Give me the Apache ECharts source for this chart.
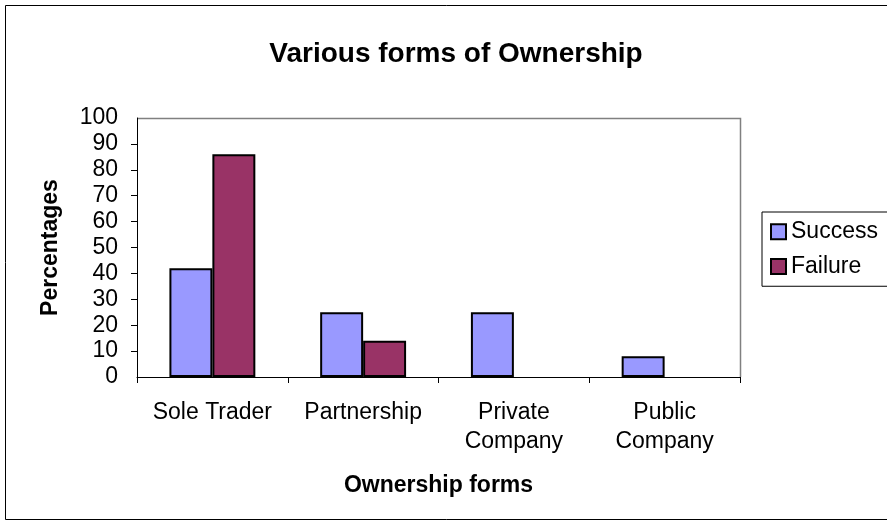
<!DOCTYPE html>
<html>
<head>
  <title>Various forms of Ownership</title>
  <script src="https://cdn.jsdelivr.net/npm/echarts@6/dist/echarts.min.js"></script>
  <style>
    body { margin: 0; background: #fff; }
    #chart { width: 887px; height: 524px; }
  </style>
</head>
<body>
  <div id="chart"></div>
  <script>
    // data
    const categories = ['Sole Trader', 'Partnership', 'Private\nCompany', 'Public\nCompany'];
    const success = [42, 25, 25, 8];
    const failure = [86, 14, 0, 0];
    const yTicks = [0, 10, 20, 30, 40, 50, 60, 70, 80, 90, 100];

    const chart = echarts.init(document.getElementById('chart'));
    const font = 'Liberation Sans, Arial, sans-serif';

    // zero-height bars get no outline, like the original
    const bars = arr => arr.map(v => v === 0 ? { value: v, itemStyle: { borderWidth: 0 } } : v);

    const yLabel = {
      fontSize: 23, color: '#000', margin: 19, fontFamily: font,
      formatter: v => yTicks.includes(v) ? String(v) : ''
    };

    chart.setOption({
      animation: false,
      backgroundColor: '#fff',
      textStyle: { fontFamily: font },
      title: {
        text: 'Various forms of Ownership',
        left: 451, top: 25, textAlign: 'center',
        textStyle: { fontSize: 28, fontWeight: 'bold', color: '#000', fontFamily: font }
      },
      legend: {
        data: ['Success', 'Failure'],
        orient: 'vertical',
        left: 762, top: 212,
        itemWidth: 15, itemHeight: 15, itemGap: -5,
        icon: 'rect',
        textStyle: { fontSize: 23, lineHeight: 24, color: '#000', fontFamily: font },
        borderColor: '#000', borderWidth: 1,
        padding: [0, 12, 0, 8]
      },
      grid: { left: 137, right: 147, top: 118, bottom: 147 },
      xAxis: {
        type: 'category',
        data: categories,
        name: 'Ownership forms',
        nameLocation: 'middle',
        nameGap: 89,
        nameTextStyle: { fontSize: 23, fontWeight: 'bold', color: '#000', fontFamily: font },
        axisLine: { lineStyle: { color: '#000', width: 1 } },
        axisTick: { show: true, length: 6, lineStyle: { color: '#000' } },
        axisLabel: { interval: 0, fontSize: 23, color: '#000', margin: 21, lineHeight: 29, fontFamily: font },
        splitLine: { show: false }
      },
      yAxis: [
        {
          // main axis: line, ticks, labels 10..90
          type: 'value',
          min: 0, max: 100, interval: 10,
          name: 'Percentages',
          nameLocation: 'middle',
          nameGap: 67,
          nameRotate: 90,
          nameTextStyle: { fontSize: 23, fontWeight: 'bold', color: '#000', fontFamily: font },
          axisLine: { show: true, lineStyle: { color: '#000', width: 1 } },
          axisTick: { show: true, length: 6, lineStyle: { color: '#000' } },
          axisLabel: yLabel,
          splitLine: { show: false }
        },
        {
          // overlay axis only for the 0 and 100 labels
          type: 'value',
          position: 'left',
          min: 0, max: 100, interval: 100,
          axisLine: { show: false },
          axisTick: { show: false },
          axisLabel: Object.assign({}, yLabel, { showMinLabel: true, showMaxLabel: true }),
          splitLine: { show: false }
        }
      ],
      series: [
        {
          name: 'Success', type: 'bar', data: bars(success),
          barGap: '0%', barCategoryGap: '43%',
          itemStyle: { color: '#9999ff', borderColor: '#000', borderWidth: 2 }
        },
        {
          name: 'Failure', type: 'bar', data: bars(failure),
          itemStyle: { color: '#993366', borderColor: '#000', borderWidth: 2 }
        }
      ],
      graphic: [
        // outer chart border
        { type: 'rect', shape: { x: 5.5, y: 5.5, width: 890, height: 514 },
          style: { fill: null, stroke: '#000', lineWidth: 1 }, silent: true },
        // plot area frame (top and right)
        { type: 'polyline', shape: { points: [[137, 118.5], [740.5, 118.5], [740.5, 377]] },
          style: { stroke: '#808080', lineWidth: 1.5, fill: null }, silent: true }
      ]
    });
  </script>
</body>
</html>
